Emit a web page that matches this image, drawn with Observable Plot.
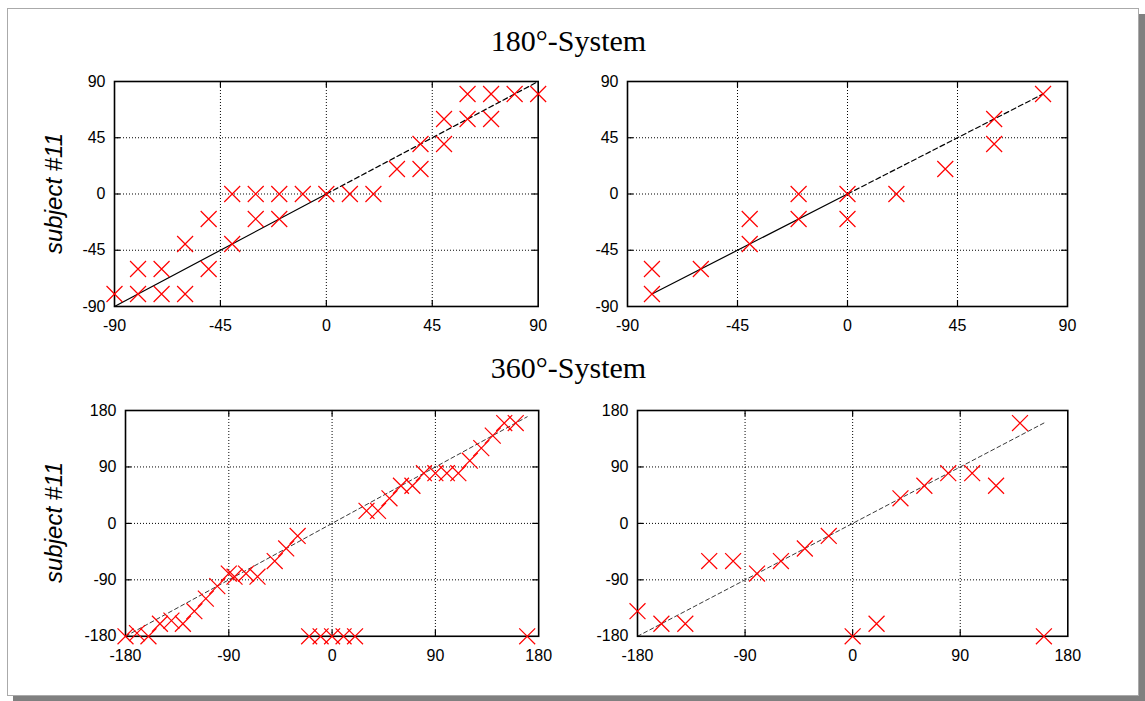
<!DOCTYPE html>
<html><head><meta charset="utf-8">
<script src="https://cdn.jsdelivr.net/npm/d3@7"></script>
<script src="https://cdn.jsdelivr.net/npm/@observablehq/plot@0.6"></script>
<style>
body{margin:0;background:#fff;}
#page{position:relative;width:1145px;height:701px;overflow:hidden;background:#fff;}
#sheet{position:absolute;left:7px;top:8px;width:1130px;height:686px;border:1px solid #aaa;box-shadow:6px 6px 0 #808080;background:#fff;}
.panel{position:absolute;}
.panel svg{max-width:none !important;}
#overlay{position:absolute;left:0;top:0;}
</style></head>
<body><div id="page"><div id="sheet"></div><svg id="overlay" width="1145" height="701"></svg></div>
<script>
// ---------- data ----------
const titles = ["180°-System", "360°-System"];
const yLabel = "subject #11";
const ticks180 = [-90, -45, 0, 45, 90];
const ticks360 = [-180, -90, 0, 90, 180];

// top-left: 180° system, condition A
const p1x = [-90,-80,-80,-70,-70,-60,-60,-50,-50,-40,-40,-30,-30,-20,-20,-10,0,10,20,30,40,40,50,50,60,70,60,70,80,90];
const p1y = [-80,-60,-80,-60,-80,-40,-80,-20,-60,0,-40,0,-20,0,-20,0,0,0,0,20,20,40,40,60,60,60,80,80,80,80];
// top-right: 180° system, condition B
const p2x = [-80,-80,-60,-40,-40,-20,-20,0,0,20,40,60,60,80];
const p2y = [-60,-80,-60,-20,-40,0,-20,0,-20,0,20,60,40,80];
// bottom-left: 360° system, condition A
const p3x = [-180,-170,-160,-150,-140,-130,-120,-110,-100,-90,-85,-75,-65,-50,-40,-30,-20,-10,0,10,20,30,40,50,60,70,80,90,100,110,120,130,140,150,160,170];
const p3y = [-180,-175,-180,-160,-155,-160,-140,-120,-100,-80,-85,-80,-85,-60,-40,-20,-180,-180,-180,-180,-180,20,20,40,60,60,80,80,80,80,100,120,140,160,160,-180];
// bottom-right: 360° system, condition B
const p4x = [-180,-160,-140,-120,-100,-80,-60,-40,-20,0,20,40,60,80,100,120,140,160];
const p4y = [-140,-160,-160,-60,-60,-80,-60,-40,-20,-180,-160,40,60,80,80,60,160,-180];

// reference lines (solid part, dashed part)
const ref1Solid = [[-90,-90],[0,0]], ref1Dash = [[0,0],[90,90]];
const ref2Solid = [[-80,-80],[0,0]], ref2Dash = [[0,0],[80,80]];
const ref3Dash = [[-180,-180],[170,170]];
const ref4Dash = [[-180,-180],[160,160]];

// ---------- drawing ----------
const mL = 50, mT = 15, mR = 25, mB = 35;
function panel(cfg) {
  const {xs, ys, ticks, fl, ft, fw, fh, solid, dash, thinDash} = cfg;
  const dom = [ticks[0], ticks[ticks.length-1]];
  const kx = (dom[1]-dom[0]) / fw, ky = (dom[1]-dom[0]) / fh;
  const tl = 6;
  const inner = ticks.slice(1, -1);
  const pts = xs.map((x, i) => ({x, y: ys[i]}));
  const fmt = d => String(d);
  const marks = [
    Plot.ruleX(inner, {x: d => d, stroke: "black", strokeWidth: 1, strokeDasharray: "1,2"}),
    Plot.ruleY(inner, {y: d => d, stroke: "black", strokeWidth: 1, strokeDasharray: "1,2"}),
    Plot.ruleX(inner, {x: d => d, y1: dom[0], y2: dom[0] + tl*ky, stroke: "black", strokeWidth: 1.2}),
    Plot.ruleX(inner, {x: d => d, y1: dom[1], y2: dom[1] - tl*ky, stroke: "black", strokeWidth: 1.2}),
    Plot.ruleY(inner, {y: d => d, x1: dom[0], x2: dom[0] + tl*kx, stroke: "black", strokeWidth: 1.2}),
    Plot.ruleY(inner, {y: d => d, x1: dom[1], x2: dom[1] - tl*kx, stroke: "black", strokeWidth: 1.2}),
  ];
  if (solid) marks.push(Plot.line(solid, {x: d => d[0], y: d => d[1], stroke: "black", strokeWidth: 1.2}));
  if (dash) marks.push(Plot.line(dash, {x: d => d[0], y: d => d[1], stroke: "black", strokeWidth: 1.2, strokeDasharray: "5,3"}));
  if (thinDash) marks.push(Plot.line(thinDash, {x: d => d[0], y: d => d[1], stroke: "#222", strokeWidth: 0.9, strokeDasharray: "4,3"}));
  marks.push(
    Plot.frame({stroke: "black", strokeWidth: 1.6}),
    Plot.dot(pts, {x: "x", y: "y", symbol: "times", r: 7.3, stroke: "#ff0000", strokeWidth: 1.2}),
    Plot.axisX(ticks, {anchor: "bottom", tickSize: 0, tickPadding: 13, tickFormat: fmt, label: null}),
    Plot.axisY(ticks, {anchor: "left", tickSize: 0, tickPadding: 9, tickFormat: fmt, label: null})
  );
  const chart = Plot.plot({
    width: fw + mL + mR, height: fh + mT + mB,
    marginLeft: mL, marginRight: mR, marginTop: mT, marginBottom: mB,
    x: {domain: dom, inset: 0}, y: {domain: dom, inset: 0},
    style: {fontSize: "16px", fontFamily: "'Liberation Sans', Arial, sans-serif", color: "black", background: "transparent", overflow: "visible"},
    marks
  });
  const div = document.createElement("div");
  div.className = "panel";
  div.style.left = (fl - mL) + "px";
  div.style.top = (ft - mT) + "px";
  div.appendChild(chart);
  document.getElementById("page").appendChild(div);
}

panel({xs: p1x, ys: p1y, ticks: ticks180, fl: 114, ft: 81, fw: 423.7, fh: 225, solid: ref1Solid, dash: ref1Dash});
panel({xs: p2x, ys: p2y, ticks: ticks180, fl: 627, ft: 81, fw: 440, fh: 225, solid: ref2Solid, dash: ref2Dash});
panel({xs: p3x, ys: p3y, ticks: ticks360, fl: 124.5, ft: 409.5, fw: 413.2, fh: 225.8, thinDash: ref3Dash});
panel({xs: p4x, ys: p4y, ticks: ticks360, fl: 636.7, ft: 409.5, fw: 430.3, fh: 225.8, thinDash: ref4Dash});

// titles and y labels
const ov = d3.select("#overlay");
document.getElementById("page").appendChild(document.getElementById("overlay"));
[[51, titles[0]], [378, titles[1]]].forEach(([y, t]) => {
  ov.append("text").attr("x", 568.5).attr("y", y).attr("text-anchor", "middle")
    .attr("font-family", "'Liberation Serif', serif").attr("font-size", 30).text(t);
});
[193.5, 522.5].forEach(y => {
  ov.append("text").attr("transform", `translate(62,${y}) rotate(-90)`).attr("text-anchor", "middle")
    .attr("font-family", "'Liberation Sans', Arial, sans-serif").attr("font-style", "italic")
    .attr("font-size", 24).text(yLabel);
});
</script></body></html>
